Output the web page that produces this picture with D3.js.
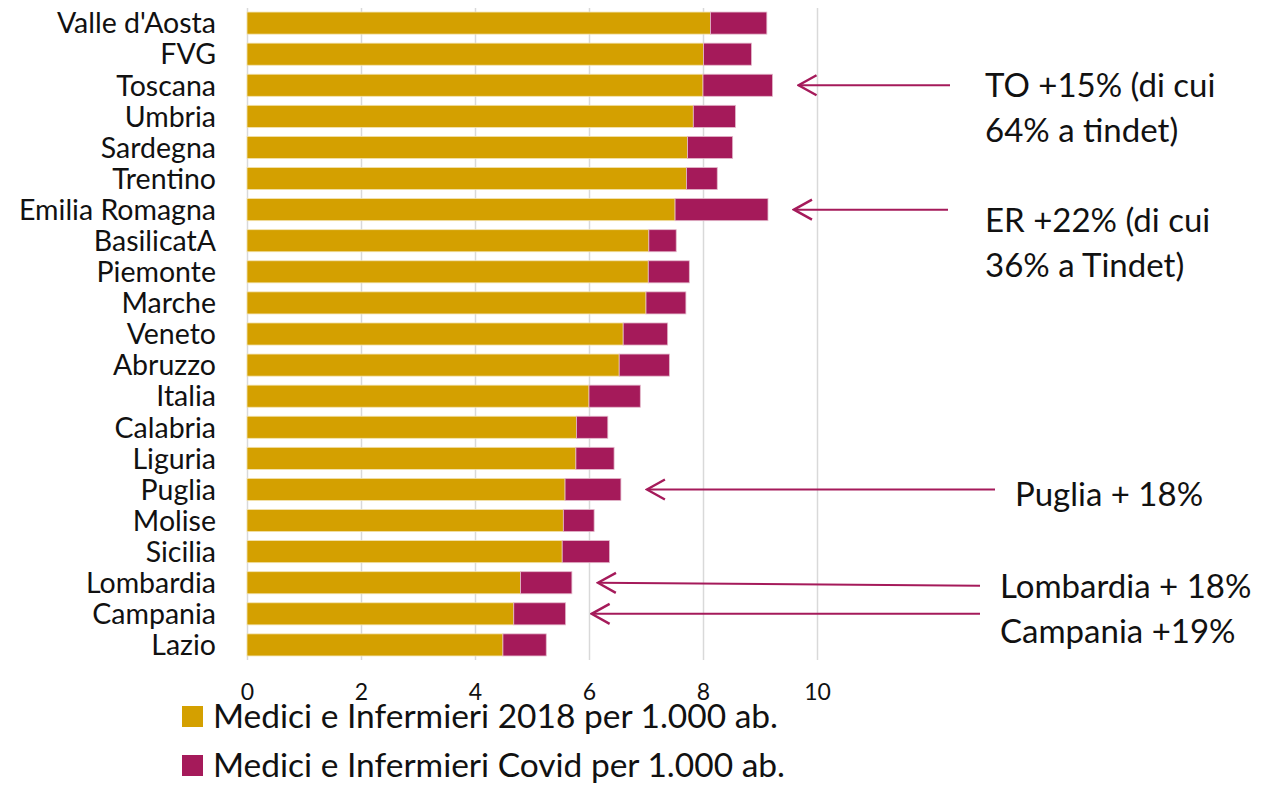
<!DOCTYPE html>
<html lang="it">
  <head>
    <meta charset="UTF-8" />
    <title>Medici e Infermieri per 1.000 ab.</title>
    <script src="https://d3js.org/d3.v7.min.js"></script>
    <style>
      body {
        margin: 0;
        background: #fff;
      }
      svg {
        display: block;
        font-family: Lato, "Open Sans", sans-serif;
      }
      .grid line {
        stroke: #d9d9d9;
        stroke-width: 1.5;
      }
    </style>
  </head>
  <body>
    <svg id="chart" width="1264" height="785"></svg>
    <script>
      const regioni = [
        "Valle d'Aosta", "FVG", "Toscana", "Umbria", "Sardegna", "Trentino",
        "Emilia Romagna", "BasilicatA", "Piemonte", "Marche", "Veneto",
        "Abruzzo", "Italia", "Calabria", "Liguria", "Puglia", "Molise",
        "Sicilia", "Lombardia", "Campania", "Lazio"
      ];
      const base2018 = [
        8.13, 8.01, 8.0, 7.83, 7.73, 7.71, 7.51, 7.05, 7.04, 7.0, 6.6,
        6.53, 6.0, 5.78, 5.77, 5.58, 5.55, 5.53, 4.8, 4.68, 4.49
      ];
      const covid = [
        0.99, 0.84, 1.22, 0.74, 0.79, 0.54, 1.63, 0.48, 0.72, 0.7, 0.78,
        0.88, 0.9, 0.55, 0.67, 0.98, 0.54, 0.83, 0.9, 0.91, 0.76
      ];
      const xTicks = [0, 2, 4, 6, 8, 10];
      const serie = [
        "Medici e Infermieri 2018 per 1.000 ab.",
        "Medici e Infermieri Covid per 1.000 ab."
      ];
      const colori = ["#d4a000", "#a51a5a"];

      // annotazioni: regione indicata, x di partenza della freccia, righe di testo
      const note = [
        { regione: "Toscana", da: 950, testo: ["TO +15% (di cui", "64% a tindet)"], tx: 985, ty: 97 },
        { regione: "Emilia Romagna", da: 948, testo: ["ER +22% (di cui", "36% a Tindet)"], tx: 985, ty: 232 },
        { regione: "Puglia", da: 995, testo: ["Puglia + 18%"], tx: 1015, ty: 506 },
        { regione: "Lombardia", da: 980, testo: ["Lombardia + 18%"], tx: 1000, ty: 598 },
        { regione: "Campania", da: 980, testo: ["Campania +19%"], tx: 1000, ty: 643 }
      ];

      const svg = d3.select("#chart");

      const x = d3.scaleLinear().domain([0, 10]).range([247, 817]);
      const y = d3
        .scaleBand()
        .domain(regioni)
        .range([8, 660])
        .paddingInner(0.29)
        .paddingOuter(0.13);

      // griglia verticale
      svg
        .append("g")
        .attr("class", "grid")
        .attr("transform", "translate(0,660)")
        .call(d3.axisBottom(x).tickValues(xTicks).tickSize(-652).tickFormat(""))
        .call((g) => g.select(".domain").remove());

      const dati = regioni.map((r, i) => ({
        regione: r,
        base: base2018[i],
        covid: covid[i]
      }));

      const righe = svg
        .append("g")
        .selectAll("g")
        .data(dati)
        .join("g");

      righe
        .append("rect")
        .attr("x", x(0))
        .attr("y", (d) => y(d.regione))
        .attr("width", (d) => x(d.base) - x(0))
        .attr("height", y.bandwidth())
        .attr("fill", colori[0])
        .attr("stroke", "#f3e3b0")
        .attr("stroke-width", 0.8);

      righe
        .append("rect")
        .attr("x", (d) => x(d.base))
        .attr("y", (d) => y(d.regione))
        .attr("width", (d) => x(d.base + d.covid) - x(d.base))
        .attr("height", y.bandwidth())
        .attr("fill", colori[1])
        .attr("stroke", "#e3b9cb")
        .attr("stroke-width", 0.8);

      // etichette delle regioni
      svg
        .append("g")
        .call(d3.axisLeft(y).tickSize(0).tickPadding(31))
        .attr("transform", `translate(${x(0)},0)`)
        .call((g) => g.select(".domain").remove())
        .selectAll("text")
        .attr("font-family", "Lato, sans-serif")
        .attr("font-size", 28.5)
        .attr("fill", "#111")
        .attr("dy", "0.36em");

      // etichette asse x
      svg
        .append("g")
        .attr("transform", "translate(0,681)")
        .call(d3.axisBottom(x).tickValues(xTicks).tickSize(0))
        .call((g) => g.select(".domain").remove())
        .selectAll("text")
        .attr("font-family", "Lato, sans-serif")
        .attr("font-size", 23)
        .attr("fill", "#111");

      // legenda
      const leg = svg
        .append("g")
        .selectAll("g")
        .data(serie)
        .join("g")
        .attr("transform", (d, i) => `translate(182,${706 + i * 49})`);
      leg
        .append("rect")
        .attr("width", 21)
        .attr("height", 21)
        .attr("fill", (d, i) => colori[i]);
      leg
        .append("text")
        .attr("x", 31)
        .attr("y", 22)
        .attr("font-size", 33.5)
        .attr("fill", "#111")
        .text((d) => d);

      // frecce
      svg
        .append("defs")
        .append("marker")
        .attr("id", "freccia")
        .attr("viewBox", "-22 -12 24 24")
        .attr("refX", 0)
        .attr("refY", 0)
        .attr("markerWidth", 24)
        .attr("markerHeight", 24)
        .attr("markerUnits", "userSpaceOnUse")
        .attr("orient", "auto")
        .append("path")
        .attr("d", "M-18,-10L0,0L-18,10")
        .attr("fill", "none")
        .attr("stroke", colori[1])
        .attr("stroke-width", 2.4);

      const ann = svg.append("g").selectAll("g").data(note).join("g");
      ann
        .append("line")
        .attr("x1", (d) => d.da)
        .attr("x2", (d) => {
          const i = regioni.indexOf(d.regione);
          return x(base2018[i] + covid[i]) + 26;
        })
        .attr("y1", (d) => y(d.regione) + y.bandwidth() / 2 + (d.regione === "Lombardia" ? 3 : 0))
        .attr("y2", (d) => y(d.regione) + y.bandwidth() / 2)
        .attr("stroke", colori[1])
        .attr("stroke-width", 2)
        .attr("marker-end", "url(#freccia)");

      ann
        .append("text")
        .attr("x", (d) => d.tx)
        .attr("y", (d) => d.ty)
        .attr("font-size", 33)
        .attr("fill", "#111")
        .selectAll("tspan")
        .data((d) => d.testo.map((t) => ({ t, x: d.tx })))
        .join("tspan")
        .attr("x", (d) => d.x)
        .attr("dy", (d, i) => (i === 0 ? 0 : 45))
        .text((d) => d.t);
    </script>
  </body>
</html>
